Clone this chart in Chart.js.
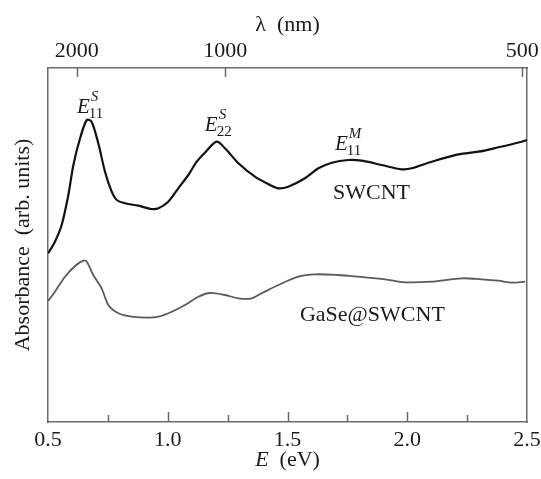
<!DOCTYPE html>
<html>
<head>
<meta charset="utf-8">
<script src="https://cdn.jsdelivr.net/npm/chart.js@4/dist/chart.umd.min.js"></script>
<style>
  html, body { margin: 0; padding: 0; background: #fff; }
  #wrap { width: 541px; height: 479px; position: relative; }
</style>
</head>
<body>
<div id="wrap"><canvas id="c" width="541" height="479"></canvas></div>
<script>
// ---- data (photon energy in eV, absorbance in arbitrary units) ----
const swcntEnergy = [0.501,0.529,0.557,0.585,0.606,0.634,0.662,0.682,0.710,0.738,0.766,0.787,0.822,0.877,0.933,0.961,1.002,1.044,1.086,1.121,1.156,1.204,1.239,1.295,1.364,1.427,1.462,1.503,1.573,1.629,1.685,1.754,1.810,1.893,1.977,2.019,2.102,2.213,2.297,2.380,2.478,2.500];
const swcntAbs    = [1.687,1.803,1.970,2.270,2.570,2.837,3.020,3.003,2.787,2.503,2.303,2.220,2.187,2.163,2.130,2.137,2.203,2.337,2.470,2.603,2.695,2.803,2.737,2.587,2.453,2.370,2.337,2.353,2.437,2.537,2.593,2.620,2.613,2.570,2.527,2.537,2.603,2.677,2.703,2.747,2.803,2.820];
const gaseEnergy  = [0.501,0.529,0.571,0.613,0.647,0.662,0.689,0.724,0.752,0.794,0.849,0.919,0.961,1.017,1.072,1.128,1.176,1.239,1.295,1.351,1.392,1.462,1.545,1.615,1.712,1.796,1.907,1.991,2.102,2.227,2.311,2.380,2.436,2.492];
const gaseAbs     = [1.210,1.303,1.453,1.560,1.613,1.603,1.470,1.337,1.170,1.087,1.053,1.043,1.053,1.103,1.170,1.253,1.290,1.270,1.237,1.237,1.287,1.370,1.453,1.477,1.470,1.453,1.427,1.397,1.403,1.437,1.427,1.413,1.393,1.403];
const seriesNames = ['SWCNT', 'GaSe@SWCNT'];
const energyTicks = [0.5, 1.0, 1.5, 2.0, 2.5];
const wavelengthTicks = [2000, 1000, 500];   // nm, top axis
const HC = 1240;                              // eV·nm

const serif = '"Liberation Serif", "DejaVu Serif", serif';
const frameColor = '#6a6a6a';
const textColor = '#1b1b1b';

function pts(xs, ys) { return xs.map((x, i) => ({ x: x, y: ys[i] })); }
function noPad(s) { s.paddingLeft = 0; s.paddingRight = 0; }

// inward ticks, axis title with italic E, peak labels and curve labels
const decor = {
  id: 'decor',
  afterDraw(chart) {
    const ctx = chart.ctx;
    const xs = chart.scales.x, x2 = chart.scales.x2, ys = chart.scales.y;
    const a = chart.chartArea;
    ctx.save();
    ctx.strokeStyle = frameColor;
    ctx.lineWidth = 1.5;
    for (let i = 0; i < energyTicks.length - 1; i++) {
      const v = energyTicks[i], m = (energyTicks[i] + energyTicks[i + 1]) / 2;
      [[v, 10], [m, 7]].forEach(([val, len]) => {
        const px = Math.round(xs.getPixelForValue(val)) + 0.5;
        if (px <= a.left + 1) return;
        ctx.beginPath(); ctx.moveTo(px, a.bottom); ctx.lineTo(px, a.bottom - len); ctx.stroke();
      });
    }
    x2.ticks.forEach(t => {
      const px = Math.round(x2.getPixelForValue(t.value)) + 0.5;
      ctx.beginPath(); ctx.moveTo(px, a.top); ctx.lineTo(px, a.top + 9); ctx.stroke();
    });
    ctx.restore();

    ctx.save();
    ctx.fillStyle = textColor;
    ctx.textBaseline = 'middle';
    ctx.font = 'italic 22px ' + serif;
    const t1 = 'E', t2 = '  (eV)';
    const w1 = ctx.measureText(t1).width;
    ctx.font = '22px ' + serif;
    const w2 = ctx.measureText(t2).width;
    const cx = (a.left + a.right) / 2, tx = cx - (w1 + w2) / 2, ty = 460;
    ctx.font = 'italic 22px ' + serif;
    ctx.textAlign = 'left';
    ctx.fillText(t1, tx, ty);
    ctx.font = '22px ' + serif;
    ctx.fillText(t2, tx + w1, ty);

    const peaks = chart.options.plugins.decor.peaks;
    ctx.textBaseline = 'alphabetic';
    peaks.forEach(p => {
      const px = xs.getPixelForValue(p.e), py = ys.getPixelForValue(p.v);
      ctx.font = 'italic 21px ' + serif;
      ctx.fillText('E', px, py);
      const w = ctx.measureText('E').width;
      ctx.font = '15px ' + serif;
      ctx.fillText(p.sub, px + w - 1, py + 5);
      ctx.font = 'italic 15px ' + serif;
      ctx.fillText(p.sup, px + w + 1, py - 12);
    });
    const names = chart.options.plugins.decor.names;
    ctx.font = '22px ' + serif;
    ctx.textBaseline = 'middle';
    names.forEach(n => {
      ctx.fillText(n.text, xs.getPixelForValue(n.e), ys.getPixelForValue(n.v));
    });
    ctx.restore();
  }
};

new Chart(document.getElementById('c'), {
  type: 'line',
  data: {
    datasets: [
      { label: seriesNames[0], data: pts(swcntEnergy, swcntAbs), borderColor: '#111', borderWidth: 2.2, pointRadius: 0, tension: 0.3, fill: false },
      { label: seriesNames[1], data: pts(gaseEnergy, gaseAbs), borderColor: '#5a5a5a', borderWidth: 1.8, pointRadius: 0, tension: 0.3, fill: false }
    ]
  },
  options: {
    responsive: false,
    animation: false,
    events: [],
    layout: { padding: 0, autoPadding: false },
    plugins: {
      legend: { display: false },
      tooltip: { enabled: false },
      decor: {
        peaks: [
          { e: 0.621, v: 3.09, sub: '11', sup: 'S' },
          { e: 1.155, v: 2.91, sub: '22', sup: 'S' },
          { e: 1.698, v: 2.72, sub: '11', sup: 'M' }
        ],
        names: [
          { text: seriesNames[0], e: 1.69, v: 2.29 },
          { text: seriesNames[1], e: 1.552, v: 1.07 }
        ]
      }
    },
    scales: {
      x: {
        type: 'linear', position: 'bottom', min: 0.5, max: 2.5,
        afterBuildTicks: s => { s.ticks = energyTicks.map(v => ({ value: v })); },
        afterFit: s => { s.height = 57; noPad(s); },
        grid: { display: true, drawOnChartArea: false, drawTicks: false, color: frameColor },
        border: { display: true, color: frameColor, width: 1.5 },
        ticks: { color: textColor, font: { family: serif, size: 22 }, padding: 5, maxRotation: 0,
                 callback: v => v.toFixed(1) },
        title: { display: false }
      },
      x2: {
        type: 'linear', position: 'top', min: 0.5, max: 2.5,
        afterBuildTicks: s => { s.ticks = wavelengthTicks.map(l => ({ value: HC / l })); },
        afterFit: s => { s.height = 68; noPad(s); },
        grid: { display: true, drawOnChartArea: false, drawTicks: false, color: frameColor },
        border: { display: true, color: frameColor, width: 1.5 },
        ticks: { color: textColor, font: { family: serif, size: 22 }, padding: 4, maxRotation: 0,
                 callback: v => String(Math.round(HC / v)) },
        title: { display: true, text: 'λ  (nm)', color: textColor, font: { family: serif, size: 22 }, padding: { top: 12, bottom: 0 } }
      },
      y: {
        type: 'linear', position: 'left', min: 0, max: 3.54,
        afterFit: s => { s.width = 48; },
        grid: { display: true, drawOnChartArea: false, drawTicks: false, color: frameColor },
        border: { display: true, color: frameColor, width: 1.5 },
        ticks: { display: false },
        title: { display: true, text: 'Absorbance  (arb. units)', color: textColor, font: { family: serif, size: 22 }, padding: { top: 10, bottom: 0 } }
      },
      y2: {
        type: 'linear', position: 'right', min: 0, max: 1,
        afterFit: s => { s.width = 14; },
        grid: { display: true, drawOnChartArea: false, drawTicks: false, color: frameColor },
        border: { display: true, color: frameColor, width: 1.5 },
        ticks: { display: false }
      }
    }
  },
  plugins: [decor]
});
</script>
</body>
</html>
